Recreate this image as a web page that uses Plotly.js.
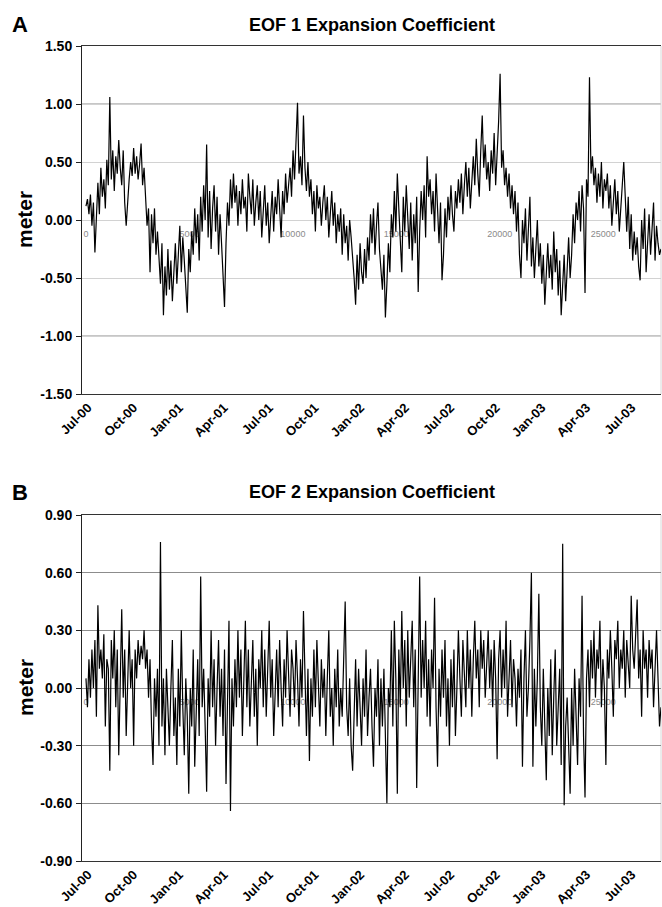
<!DOCTYPE html>
<html><head><meta charset="utf-8">
<script src="https://cdn.plot.ly/plotly-3.0.1.min.js"></script>
<style>html,body{margin:0;padding:0;background:#fff}#chart{width:662px;height:907px}</style>
</head><body><div id="chart"></div>
<script>
const startDate = [2000, 5, 27];
const stepDays = 3;

const eof1 = [
 0.12, 0.18, 0.05, 0.22, -0.05, 0.15, -0.28, 0.1, 0.32, 0.05,
 0.45, 0.2, 0.35, 0.1, 0.52, 0.3, 1.06, 0.35, 0.6, 0.25,
 0.55, 0.4, 0.69, 0.45, 0.3, 0.6, 0.15, -0.05, 0.2, 0.35,
 0.5, 0.38, 0.62, 0.4, 0.55, 0.35, 0.48, 0.66, 0.3, 0.45,
 0.2, -0.05, 0.1, -0.45, 0.05, -0.2, 0.1, -0.3, -0.1, -0.35,
 -0.55, -0.2, -0.82, -0.4, -0.65, -0.25, -0.6, -0.35, -0.7, -0.45,
 -0.2, -0.55, -0.3, -0.05, -0.45, -0.15, -0.35, -0.55, -0.8, -0.25,
 -0.45, -0.1, -0.3, 0.1, -0.2, 0.05, -0.35, 0.2, -0.1, 0.3,
 0.0, 0.65, -0.15, 0.25, -0.25, 0.1, 0.3, -0.1, 0.2, -0.3,
 0.05, -0.2, -0.45, -0.75, -0.2, 0.15, -0.05, 0.35, 0.1, 0.4,
 0.15, 0.3, -0.05, 0.25, 0.05, 0.35, 0.1, 0.2, -0.1, 0.4,
 0.2, 0.05, 0.35, -0.05, 0.15, 0.3, 0.0, 0.25, -0.15, 0.1,
 0.3, -0.05, 0.15, -0.2, 0.1, 0.25, -0.1, 0.2, 0.05, 0.35,
 0.1, -0.15, 0.25, 0.05, 0.4, 0.15, 0.3, 0.45, 0.2, 0.6,
 0.35, 0.7, 1.01, 0.4, 0.55, 0.3, 0.9, 0.45, 0.25, 0.5,
 0.2, 0.35, 0.05, 0.25, -0.1, 0.3, 0.1, 0.2, -0.05, 0.15,
 0.3, 0.0, 0.2, -0.15, 0.1, 0.25, -0.05, 0.15, -0.2, 0.05,
 -0.1, 0.1, -0.3, 0.05, -0.2, -0.05, -0.35, 0.0, -0.15, -0.3,
 -0.5, -0.73, -0.3, -0.6, -0.2, -0.45, -0.55, -0.25, -0.5, -0.15,
 -0.35, 0.05, -0.2, 0.1, -0.3, -0.05, 0.15, -0.25, -0.4, -0.6,
 -0.3, -0.84, -0.55, -0.2, -0.45, 0.05, -0.15, 0.25, -0.1, 0.4,
 0.1, -0.2, -0.45, 0.2, -0.1, 0.3, 0.0, -0.25, 0.15, -0.35,
 0.05, -0.2, 0.2, -0.62, -0.1, 0.25, 0.0, 0.3, -0.15, 0.55,
 0.2, 0.35, 0.05, 0.25, -0.1, 0.4, 0.1, -0.2, 0.15, -0.52,
 -0.3, 0.1, -0.15, 0.2, 0.0, 0.3, 0.05, -0.1, 0.25, 0.1,
 0.35, 0.15, 0.4, 0.05, 0.3, 0.5, 0.2, 0.45, 0.1, 0.35,
 0.55, 0.3, 0.7, 0.4, 0.2, 0.6, 0.9, 0.45, 0.65, 0.35,
 0.5, 0.25, 0.6, 0.4, 0.75, 0.3, 0.55, 0.85, 1.26, 0.45,
 0.6, 0.3, 0.45, 0.2, 0.4, 0.1, 0.3, 0.05, 0.25, -0.1,
 0.15, -0.3, -0.5, 0.0, -0.2, 0.1, -0.35, -0.1, 0.2, -0.4,
 -0.15, -0.5, -0.25, 0.0, -0.4, -0.2, -0.55, -0.3, -0.73, -0.4,
 -0.2, -0.5, -0.3, -0.6, -0.1, -0.45, -0.25, -0.65, -0.35, -0.82,
 -0.5, -0.3, -0.7, -0.4, -0.15, -0.5, -0.3, 0.05, -0.2, 0.15,
 0.0, 0.25, -0.1, 0.3, 0.1, -0.63, 0.35, 0.2, 1.23, 0.4,
 0.55, 0.3, 0.45, 0.15, 0.4, 0.2, 0.5, 0.1, 0.35, 0.25,
 0.4, 0.1, 0.3, -0.05, 0.2, 0.35, 0.05, 0.25, -0.1, 0.15,
 0.3, 0.5, 0.1, -0.1, 0.2, -0.25, 0.05, -0.35, -0.1, -0.3,
 -0.15, -0.4, -0.52, 0.0, -0.25, 0.1, -0.45, -0.2, 0.05, -0.3,
 -0.1, 0.15, -0.35, -0.05, -0.2, -0.3, -0.25
];

const eof2 = [
 0.05, -0.1, 0.15, -0.05, 0.2, 0.0, 0.25, -0.15, 0.43, 0.1,
 0.2, 0.05, 0.28, -0.2, 0.15, 0.1, -0.43, 0.25, 0.05, 0.3,
 -0.1, 0.2, -0.35, 0.15, 0.41, -0.05, 0.2, -0.25, 0.1, 0.3,
 0.0, 0.15, -0.3, 0.2, 0.05, 0.25, 0.12, 0.22, 0.15, 0.3,
 0.1, 0.2, -0.05, 0.15, -0.2, -0.4, 0.05, -0.15, 0.1, -0.3,
 0.76, -0.2, 0.05, -0.35, 0.1, -0.15, -0.3, 0.0, 0.25, -0.25,
 -0.05, -0.4, 0.1, -0.2, 0.3, -0.1, -0.35, 0.05, -0.15, -0.55,
 0.0, -0.2, 0.2, -0.41, -0.05, 0.15, -0.25, 0.58, -0.1, 0.1,
 -0.2, -0.54, 0.05, -0.15, 0.3, -0.1, 0.15, -0.3, 0.0, 0.25,
 -0.15, 0.1, -0.25, 0.2, -0.5, 0.0, 0.35, -0.64, 0.05, -0.2,
 0.15, -0.1, 0.3, -0.05, 0.2, -0.25, 0.1, 0.35, -0.1, 0.2,
 -0.2, 0.05, 0.25, -0.15, 0.1, -0.3, 0.15, 0.0, 0.3, -0.1,
 0.2, -0.15, 0.1, 0.35, -0.05, 0.15, -0.25, 0.05, 0.2, -0.1,
 0.25, 0.0, -0.2, 0.15, -0.05, 0.3, 0.05, -0.15, 0.2, 0.1,
 -0.1, 0.25, 0.05, -0.2, 0.15, -0.05, 0.4, 0.0, -0.25, 0.1,
 -0.38, 0.05, -0.15, 0.2, -0.1, 0.25, 0.0, -0.2, 0.15, -0.05,
 0.1, -0.25, 0.05, 0.3, -0.15, 0.0, -0.3, 0.1, -0.1, 0.2,
 -0.2, 0.0, -0.15, 0.25, 0.45, -0.1, -0.25, 0.05, -0.3, -0.43,
 -0.05, 0.15, -0.2, 0.1, -0.1, -0.3, 0.05, -0.15, 0.2, -0.25,
 -0.05, 0.1, -0.2, -0.41, 0.0, -0.15, 0.15, -0.3, 0.05, -0.2,
 0.1, -0.25, -0.6, 0.0, -0.1, 0.3, -0.2, 0.35, 0.05, -0.55,
 0.2, -0.1, 0.4, 0.0, 0.25, -0.2, 0.3, -0.05, 0.15, 0.35,
 -0.1, 0.2, -0.52, 0.1, 0.58, -0.05, 0.25, 0.0, 0.35, -0.15,
 0.15, -0.2, 0.2, 0.0, 0.47, -0.1, -0.41, 0.1, -0.15, 0.2,
 -0.05, 0.25, -0.2, 0.05, -0.3, 0.15, -0.1, 0.2, -0.25, 0.0,
 0.3, 0.05, -0.15, 0.25, 0.1, -0.1, 0.3, 0.0, 0.2, -0.15,
 0.15, 0.35, 0.05, 0.2, -0.1, 0.3, 0.1, 0.25, -0.05, 0.15,
 0.3, 0.0, 0.2, -0.1, 0.25, 0.05, -0.37, 0.15, 0.3, -0.05,
 0.2, 0.0, 0.35, -0.15, 0.1, 0.25, -0.1, 0.15, 0.05, -0.2,
 0.1, -0.05, 0.2, -0.41, 0.05, 0.3, -0.15, 0.0, 0.25, 0.6,
 -0.41, 0.1, -0.2, 0.05, 0.49, -0.1, -0.3, 0.1, -0.2, -0.48,
 0.0, -0.25, 0.15, -0.35, -0.05, 0.2, -0.3, -0.1, 0.1, -0.4,
 0.75, -0.61, -0.2, -0.05, -0.35, -0.55, 0.0, -0.3, 0.1, -0.2,
 -0.4, 0.05, -0.15, 0.48, -0.25, -0.57, 0.05, 0.2, -0.1, 0.25,
 0.05, 0.3, -0.05, 0.2, 0.1, 0.35, -0.1, 0.15, 0.0, -0.4,
 0.2, 0.05, 0.3, 0.1, -0.15, 0.25, 0.15, 0.35, 0.0, 0.2,
 0.1, 0.3, -0.05, 0.25, 0.15, 0.0, 0.48, 0.2, 0.1, 0.3,
 0.46, 0.05, 0.2, -0.15, 0.3, 0.1, 0.2, -0.05, 0.25, 0.1,
 0.2, -0.1, 0.15, 0.3, 0.05, -0.2, -0.1
];

// y tick labels as printed (ASCII hyphen minus)
const yTicksA = [-1.5, -1.0, -0.5, 0.0, 0.5, 1.0, 1.5];
const yTickTextA = ['-1.50', '-1.00', '-0.50', '0.00', '0.50', '1.00', '1.50'];
const yTicksB = [-0.9, -0.6, -0.3, 0.0, 0.3, 0.6, 0.9];
const yTickTextB = ['-0.90', '-0.60', '-0.30', '0.00', '0.30', '0.60', '0.90'];

// secondary (hour-index) labels that show through near the zero line
const hourTickValues = [0, 5000, 10000, 15000, 20000, 25000];
const hourTickLabels = ['0', '5000', '10000', '15000', '20000', '25000'];

const panelTitles = ['EOF 1 Expansion Coefficient', 'EOF 2 Expansion Coefficient'];
const panelLetters = ['A', 'B'];
const yTitle = 'meter';

const baseMs = Date.UTC(startDate[0], startDate[1], startDate[2]);
function fmt(ms) { return new Date(ms).toISOString().replace('T', ' ').slice(0, 19); }
function datesFor(n) { const out = []; for (let i = 0; i < n; i++) out.push(fmt(baseMs + i * stepDays * 86400000)); return out; }
const hourX = hourTickValues.map(h => fmt(baseMs + h * 3600000));

const FONT = 'Liberation Sans, Arial, Helvetica, sans-serif';
const W = 662, H = 907;
const xDom = [82 / W, 661 / W];
const yDomA = [1 - 394 / H, 1 - 46 / H];
const yDomB = [1 - 861 / H, 1 - 515 / H];

const traces = [
  { x: hourX, y: hourTickValues.map(() => -0.13), text: hourTickLabels, mode: 'text', type: 'scatter',
    textfont: { family: FONT, size: 9, color: '#8a8a8a' }, xaxis: 'x', yaxis: 'y', hoverinfo: 'skip', showlegend: false },
  { x: datesFor(eof1.length), y: eof1, mode: 'lines', type: 'scatter', line: { color: '#000', width: 1.2 },
    xaxis: 'x', yaxis: 'y', showlegend: false },
  { x: hourX, y: hourTickValues.map(() => -0.075), text: hourTickLabels, mode: 'text', type: 'scatter',
    textfont: { family: FONT, size: 9, color: '#8a8a8a' }, xaxis: 'x2', yaxis: 'y2', hoverinfo: 'skip', showlegend: false },
  { x: datesFor(eof2.length), y: eof2, mode: 'lines', type: 'scatter', line: { color: '#000', width: 1.2 },
    xaxis: 'x2', yaxis: 'y2', showlegend: false }
];

function xAxis(anchor) {
  return {
    domain: xDom, anchor: anchor, type: 'date',
    range: ['2000-06-19', '2003-08-29'], tick0: '2000-07-01', dtick: 'M3', tickformat: '%b-%y',
    tickangle: -45, showgrid: false, zeroline: false, showline: true, mirror: true,
    linecolor: '#333', linewidth: 1, ticks: '',
    tickfont: { family: FONT, size: 13, color: '#000', weight: 'bold' }
  };
}
function yAxis(anchor, dom, rng, vals, txt, grid) {
  return {
    domain: dom, anchor: anchor, range: rng, tickmode: 'array', tickvals: vals, ticktext: txt,
    showgrid: true, gridcolor: grid, gridwidth: 1, zeroline: false,
    showline: true, linecolor: '#222', linewidth: 1, ticks: 'outside', ticklen: 5, tickcolor: '#222',
    ticklabelstandoff: 1,
    tickfont: { family: FONT, size: 14, color: '#000', weight: 'bold' }
  };
}

const annotations = [];
[[yDomA, 25, 0], [yDomB, 492, 1]].forEach(([dom, ty, k]) => {
  annotations.push({ xref: 'paper', yref: 'paper', x: (xDom[0] + xDom[1]) / 2, y: 1 - ty / H, xanchor: 'center', yanchor: 'middle',
    text: panelTitles[k], showarrow: false, font: { family: FONT, size: 18, color: '#000', weight: 'bold' } });
  annotations.push({ xref: 'paper', yref: 'paper', x: 20 / W, y: 1 - ty / H, xanchor: 'center', yanchor: 'middle',
    text: panelLetters[k], showarrow: false, font: { family: FONT, size: 22, color: '#000', weight: 'bold' } });
  annotations.push({ xref: 'paper', yref: 'paper', x: 25 / W, y: (dom[0] + dom[1]) / 2, xanchor: 'center', yanchor: 'middle',
    text: yTitle, textangle: -90, showarrow: false, font: { family: FONT, size: 21, color: '#000', weight: 'bold' } });
});

const shapes = [
  { type: 'line', xref: 'x domain', yref: 'y', x0: 0, x1: 1, y0: 1, y1: 1, line: { color: '#8c8c8c', width: 1 }, layer: 'below' },
  { type: 'line', xref: 'x domain', yref: 'y', x0: 0, x1: 1, y0: -1, y1: -1, line: { color: '#8c8c8c', width: 1 }, layer: 'below' },
  { type: 'line', xref: 'x domain', yref: 'y domain', x0: 1, x1: 1, y0: 0, y1: 1, line: { color: '#d8d8d8', width: 1 }, layer: 'below' },
  { type: 'line', xref: 'x2 domain', yref: 'y2 domain', x0: 1, x1: 1, y0: 0, y1: 1, line: { color: '#d8d8d8', width: 1 }, layer: 'below' }
];

const layout = {
  width: W, height: H, margin: { l: 0, r: 0, t: 0, b: 0 },
  paper_bgcolor: '#fff', plot_bgcolor: '#fff', showlegend: false,
  font: { family: FONT, color: '#000' },
  xaxis: xAxis('y'), yaxis: yAxis('x', yDomA, [-1.5, 1.5], yTicksA, yTickTextA, '#d2d2d2'),
  xaxis2: xAxis('y2'), yaxis2: yAxis('x2', yDomB, [-0.9, 0.9], yTicksB, yTickTextB, '#8c8c8c'),
  annotations: annotations, shapes: shapes
};

Plotly.newPlot('chart', traces, layout, { staticPlot: true, displayModeBar: false });
</script>
</body></html>
